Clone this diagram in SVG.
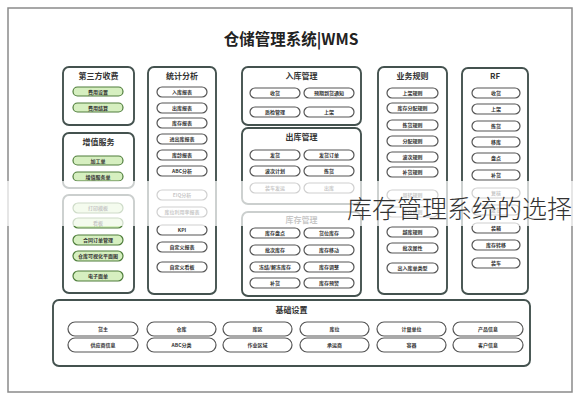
<svg xmlns="http://www.w3.org/2000/svg" width="580" height="400" viewBox="0 0 580 400">
<style>
.bg{fill:#ffffff}
.frame{fill:none;stroke:#8a8a8a;stroke-width:1.5}
.box{fill:#ffffff;stroke:#44524f;stroke-width:1.9}
.pill{fill:#ffffff;stroke:#555555;stroke-width:1.2}
.gpill{fill:#d6efc0;stroke:#4e7d3a;stroke-width:1.2}
.ttl{font-family:"Noto Sans CJK SC","Noto Sans",sans-serif;font-size:15.5px;font-weight:bold;fill:#222;text-anchor:middle}
.bt{font-family:"Noto Sans CJK SC","Noto Sans",sans-serif;font-size:8px;font-weight:bold;fill:#333;text-anchor:middle}
.pt{font-family:"Noto Sans CJK SC","Noto Sans",sans-serif;font-size:5px;font-weight:bold;fill:#333;text-anchor:middle}
.wm{font-family:"Noto Sans CJK SC","Noto Sans",sans-serif;font-size:25px;font-weight:300;fill:#333}
</style>
<rect class="bg" x="0" y="0" width="580" height="400"/>
<rect class="frame" x="8" y="8" width="564" height="384"/>
<text class="ttl" x="291" y="45">仓储管理系统|WMS</text>

<g id="third-party-fee">
<rect class="box" x="63" y="67" width="71" height="58" rx="6"/>
<text class="bt" x="98.5" y="79">第三方收费</text>
<rect class="gpill" x="73" y="87" width="50" height="9" rx="4.5"/><text class="pt" x="98" y="93.5">费用设置</text>
<rect class="gpill" x="73" y="103" width="50" height="9" rx="4.5"/><text class="pt" x="98" y="109.5">费用结算</text>
</g>

<g id="value-added">
<rect class="box" x="63" y="133" width="71" height="55" rx="6"/>
<text class="bt" x="98.5" y="145">增值服务</text>
<rect class="gpill" x="73" y="156" width="50" height="9" rx="4.5"/><text class="pt" x="98" y="162.5">加工单</text>
<rect class="gpill" x="73" y="172" width="50" height="9" rx="4.5"/><text class="pt" x="98" y="178.5">增值服务单</text>
</g>

<g id="system-tools">
<rect class="box" x="63" y="195" width="71" height="98" rx="6"/>
<rect class="gpill" x="73" y="203" width="50" height="10" rx="5"/><text class="pt" x="98" y="210">打印模板</text>
<rect class="gpill" x="73" y="218" width="50" height="10" rx="5"/><text class="pt" x="98" y="225">看板</text>
<rect class="gpill" x="73" y="235" width="50" height="10" rx="5"/><text class="pt" x="98" y="242">合同订单管理</text>
<rect class="gpill" x="73" y="251" width="50" height="10" rx="5"/><text class="pt" x="98" y="258">仓库可视化平面图</text>
<rect class="gpill" x="73" y="271" width="50" height="10" rx="5"/><text class="pt" x="98" y="278">电子面单</text>
</g>

<g id="statistics">
<rect class="box" x="148" y="67" width="68" height="227" rx="6"/>
<text class="bt" x="182" y="79">统计分析</text>
<rect class="pill" x="157" y="87" width="50" height="10" rx="5"/><text class="pt" x="182" y="94">入库报表</text>
<rect class="pill" x="157" y="103" width="50" height="10" rx="5"/><text class="pt" x="182" y="110">出库报表</text>
<rect class="pill" x="157" y="118" width="50" height="10" rx="5"/><text class="pt" x="182" y="125">库存报表</text>
<rect class="pill" x="157" y="134" width="50" height="10" rx="5"/><text class="pt" x="182" y="141">进出库报表</text>
<rect class="pill" x="157" y="150" width="50" height="10" rx="5"/><text class="pt" x="182" y="157">库龄报表</text>
<rect class="pill" x="157" y="166" width="50" height="10" rx="5"/><text class="pt" x="182" y="173">ABC分析</text>
<rect class="pill" x="157" y="190" width="50" height="10" rx="5"/><text class="pt" x="182" y="197">EIQ分析</text>
<rect class="pill" x="157" y="207" width="50" height="10" rx="5"/><text class="pt" x="182" y="214">库位利用率报表</text>
<rect class="pill" x="157" y="225" width="50" height="10" rx="5"/><text class="pt" x="182" y="232">KPI</text>
<rect class="pill" x="157" y="242" width="50" height="10" rx="5"/><text class="pt" x="182" y="249">自定义报表</text>
<rect class="pill" x="157" y="262" width="50" height="10" rx="5"/><text class="pt" x="182" y="269">自定义看板</text>
</g>

<g id="inbound">
<rect class="box" x="242" y="67" width="119" height="58" rx="6"/>
<text class="bt" x="301.5" y="79">入库管理</text>
<rect class="pill" x="250" y="88" width="50" height="10" rx="5"/><text class="pt" x="275" y="95">收货</text>
<rect class="pill" x="304" y="88" width="50" height="10" rx="5"/><text class="pt" x="329" y="95">预期到货通知</text>
<rect class="pill" x="250" y="107" width="50" height="10" rx="5"/><text class="pt" x="275" y="114">质检管理</text>
<rect class="pill" x="304" y="107" width="50" height="10" rx="5"/><text class="pt" x="329" y="114">上架</text>
</g>

<g id="outbound">
<rect class="box" x="242" y="128" width="119" height="76" rx="6"/>
<text class="bt" x="301.5" y="140">出库管理</text>
<rect class="pill" x="250" y="150" width="50" height="10" rx="5"/><text class="pt" x="275" y="157">发货</text>
<rect class="pill" x="304" y="150" width="50" height="10" rx="5"/><text class="pt" x="329" y="157">发货订单</text>
<rect class="pill" x="250" y="166" width="50" height="10" rx="5"/><text class="pt" x="275" y="173">波次计划</text>
<rect class="pill" x="304" y="166" width="50" height="10" rx="5"/><text class="pt" x="329" y="173">拣货</text>
<rect class="pill" x="250" y="183" width="50" height="10" rx="5"/><text class="pt" x="275" y="190">装车发运</text>
<rect class="pill" x="304" y="183" width="50" height="10" rx="5"/><text class="pt" x="329" y="190">出库</text>
</g>

<g id="inventory">
<rect class="box" x="242" y="212" width="119" height="84" rx="6"/>
<text class="bt" x="301.5" y="223">库存管理</text>
<rect class="pill" x="250" y="228" width="50" height="10" rx="5"/><text class="pt" x="275" y="235">库存盘点</text>
<rect class="pill" x="304" y="228" width="50" height="10" rx="5"/><text class="pt" x="329" y="235">货位库存</text>
<rect class="pill" x="250" y="245" width="50" height="10" rx="5"/><text class="pt" x="275" y="252">批次库存</text>
<rect class="pill" x="304" y="245" width="50" height="10" rx="5"/><text class="pt" x="329" y="252">库存移动</text>
<rect class="pill" x="250" y="262" width="50" height="10" rx="5"/><text class="pt" x="275" y="269">冻结/解冻库存</text>
<rect class="pill" x="304" y="262" width="50" height="10" rx="5"/><text class="pt" x="329" y="269">库存调整</text>
<rect class="pill" x="250" y="278" width="50" height="10" rx="5"/><text class="pt" x="275" y="285">补货</text>
<rect class="pill" x="304" y="278" width="50" height="10" rx="5"/><text class="pt" x="329" y="285">库存预警</text>
</g>

<g id="rules">
<rect class="box" x="378" y="67" width="69" height="227" rx="6"/>
<text class="bt" x="412.5" y="79">业务规则</text>
<rect class="pill" x="387" y="88" width="51" height="10" rx="5"/><text class="pt" x="412.5" y="95">上架规则</text>
<rect class="pill" x="387" y="103" width="51" height="10" rx="5"/><text class="pt" x="412.5" y="110">库存分配规则</text>
<rect class="pill" x="387" y="120" width="51" height="10" rx="5"/><text class="pt" x="412.5" y="127">拣货规则</text>
<rect class="pill" x="387" y="136" width="51" height="10" rx="5"/><text class="pt" x="412.5" y="143">分配规则</text>
<rect class="pill" x="387" y="152" width="51" height="10" rx="5"/><text class="pt" x="412.5" y="159">波次规则</text>
<rect class="pill" x="387" y="167" width="51" height="10" rx="5"/><text class="pt" x="412.5" y="174">补货规则</text>
<rect class="pill" x="387" y="190" width="51" height="10" rx="5"/><text class="pt" x="412.5" y="197">周转规则</text>
<rect class="pill" x="387" y="207" width="51" height="10" rx="5"/><text class="pt" x="412.5" y="214">库存规则</text>
<rect class="pill" x="387" y="227" width="51" height="10" rx="5"/><text class="pt" x="412.5" y="234">越库规则</text>
<rect class="pill" x="387" y="243" width="51" height="10" rx="5"/><text class="pt" x="412.5" y="250">批次属性</text>
<rect class="pill" x="387" y="263" width="51" height="10" rx="5"/><text class="pt" x="412.5" y="270">出入库单类型</text>
</g>

<g id="rf">
<rect class="box" x="462" y="68" width="66" height="226" rx="6"/>
<text class="bt" x="495" y="79">RF</text>
<rect class="pill" x="472" y="88" width="48" height="10" rx="5"/><text class="pt" x="496" y="95">收货</text>
<rect class="pill" x="472" y="104" width="48" height="10" rx="5"/><text class="pt" x="496" y="111">上架</text>
<rect class="pill" x="472" y="121" width="48" height="10" rx="5"/><text class="pt" x="496" y="128">拣货</text>
<rect class="pill" x="472" y="137" width="48" height="10" rx="5"/><text class="pt" x="496" y="144">移库</text>
<rect class="pill" x="472" y="153" width="48" height="10" rx="5"/><text class="pt" x="496" y="160">盘点</text>
<rect class="pill" x="472" y="170" width="48" height="10" rx="5"/><text class="pt" x="496" y="177">补货</text>
<rect class="pill" x="472" y="188" width="48" height="10" rx="5"/><text class="pt" x="496" y="195">复核</text>
<rect class="pill" x="472" y="205" width="48" height="10" rx="5"/><text class="pt" x="496" y="212">发货</text>
<rect class="pill" x="472" y="223" width="48" height="10" rx="5"/><text class="pt" x="496" y="230">装箱</text>
<rect class="pill" x="472" y="240" width="48" height="10" rx="5"/><text class="pt" x="496" y="247">库存转移</text>
<rect class="pill" x="472" y="258" width="48" height="10" rx="5"/><text class="pt" x="496" y="265">装车</text>
</g>

<g id="base-settings">
<rect class="box" x="53" y="300" width="477" height="66" rx="6"/>
<text class="bt" x="291.5" y="313">基础设置</text>
<rect class="pill" x="68" y="322" width="70" height="14" rx="7"/><text class="pt" x="103" y="331">货主</text>
<rect class="pill" x="147" y="322" width="69" height="14" rx="7"/><text class="pt" x="181.5" y="331">仓库</text>
<rect class="pill" x="223" y="322" width="69" height="14" rx="7"/><text class="pt" x="257.5" y="331">库区</text>
<rect class="pill" x="300" y="322" width="69" height="14" rx="7"/><text class="pt" x="334.5" y="331">库位</text>
<rect class="pill" x="377" y="322" width="69" height="14" rx="7"/><text class="pt" x="411.5" y="331">计量单位</text>
<rect class="pill" x="453" y="322" width="70" height="14" rx="7"/><text class="pt" x="488" y="331">产品信息</text>
<rect class="pill" x="68" y="338" width="70" height="14" rx="7"/><text class="pt" x="103" y="347">供应商信息</text>
<rect class="pill" x="147" y="338" width="69" height="14" rx="7"/><text class="pt" x="181.5" y="347">ABC分类</text>
<rect class="pill" x="223" y="338" width="69" height="14" rx="7"/><text class="pt" x="257.5" y="347">作业区域</text>
<rect class="pill" x="300" y="338" width="69" height="14" rx="7"/><text class="pt" x="334.5" y="347">承运商</text>
<rect class="pill" x="377" y="338" width="69" height="14" rx="7"/><text class="pt" x="411.5" y="347">容器</text>
<rect class="pill" x="453" y="338" width="70" height="14" rx="7"/><text class="pt" x="488" y="347">客户信息</text>
</g>

<g id="connectors"></g>

<rect x="0" y="181" width="580" height="45" fill="#ffffff" fill-opacity="0.72"/>
<text class="wm" x="347" y="218">库存管理系统的选择</text>
</svg>
